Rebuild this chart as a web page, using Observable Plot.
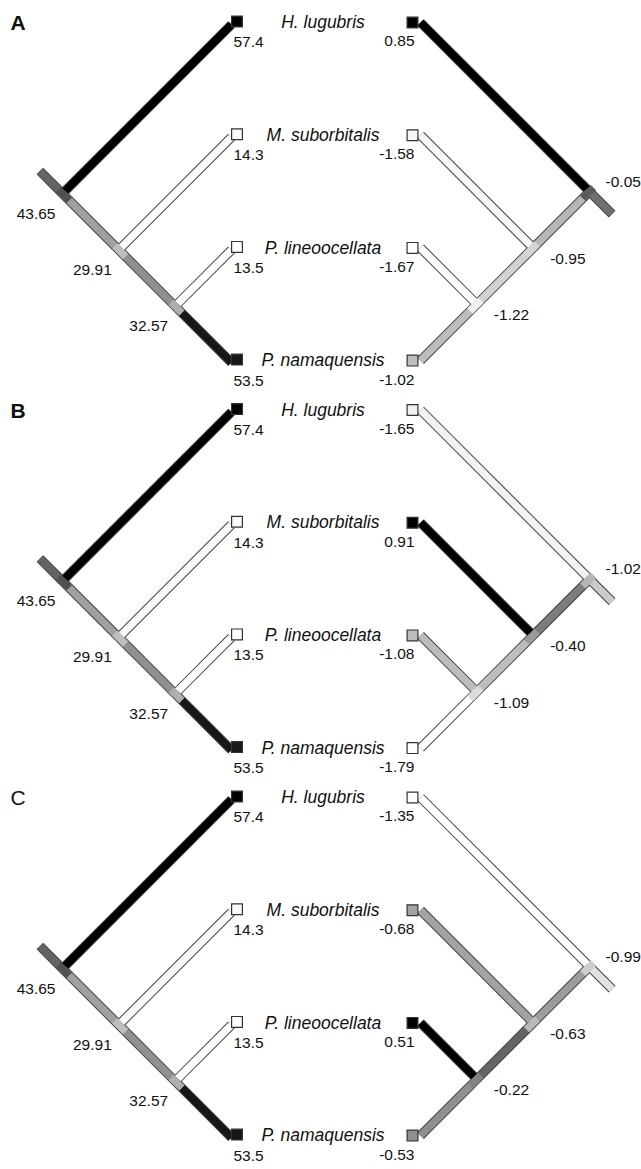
<!DOCTYPE html>
<html><head><meta charset="utf-8">
<script src="https://cdn.jsdelivr.net/npm/d3@7"></script>
<script src="https://cdn.jsdelivr.net/npm/@observablehq/plot@0.6"></script>
<style>html,body{margin:0;padding:0;background:#fff}#chart svg{display:block}</style>
</head><body><div id="chart"></div>
<script>
// ---- data ----
const species = ["H. lugubris", "M. suborbitalis", "P. lineoocellata", "P. namaquensis"];
const panels = ["A", "B", "C"];
// left tree (same in all panels): tips in species order, nodes = [root, (M.sub,(P.lin,P.nam)), (P.lin,P.nam)]
const leftTipValues = [57.4, 14.3, 13.5, 53.5];
const leftNodeValues = [43.65, 29.91, 32.57];
// right trees
const rightTipA = [0.85, -1.58, -1.67, -1.02];
const rightNodeA = [-0.05, -0.95, -1.22];
const rightTipB = [-1.65, 0.91, -1.08, -1.79];
const rightNodeB = [-1.02, -0.40, -1.09];
const rightTipC = [-1.35, -0.68, 0.51, -0.53];
const rightNodeC = [-0.99, -0.63, -0.22];
// topology: tip-index span of each internal node, and edges (parent -> child)
const nodeSpans = [[0, 3], [1, 3], [2, 3]];
const edgeDefs = [["n", 0, "t", 0], ["n", 1, "t", 1], ["n", 2, "t", 2], ["n", 0, "n", 1], ["n", 1, "n", 2], ["n", 2, "t", 3]];

// ---- layout ----
const W = 641, H = 1169, U = 112.7;          // px per tip step
const LEFT_TIP = (231 - 320.5) / U, RIGHT_TIP = (420 - 320.5) / U;
const PANEL_STEP = 387.5 / U, Y_TOP = 22 / U, LEFT_DY = 2 / U;
const STUB = 0.2;
const font = "Liberation Sans, Arial, Helvetica, sans-serif";

const rightTips = [rightTipA, rightTipB, rightTipC];
const rightNodes = [rightNodeA, rightNodeB, rightNodeC];

const tipRows = [], nodeRows = [], edgeRows = [], stubRows = [], patchRows = [], nameRows = [], letterRows = [];
panels.forEach((panel, p) => {
  [{side: -1, tips: leftTipValues, nodes: leftNodeValues, digits: 1},
   {side: 1, tips: rightTips[p], nodes: rightNodes[p], digits: 2}].forEach(tr => {
    const tipX = tr.side < 0 ? LEFT_TIP : RIGHT_TIP;
    const y0 = p * PANEL_STEP + (tr.side < 0 ? LEFT_DY : 0);
    const all = tr.tips.concat(tr.nodes);
    const lo = d3.min(all), hi = d3.max(all);
    const tt = v => (v - lo) / (hi - lo);
    const tips = tr.tips.map((v, i) => ({x: tipX, y: y0 + i, t: tt(v), label: v.toFixed(tr.digits), side: tr.side}));
    const nodes = tr.nodes.map((v, k) => {
      const [a, b] = nodeSpans[k];
      return {x: tipX + tr.side * (b - a) / 2, y: y0 + (a + b) / 2, t: tt(v), label: v.toFixed(2), side: tr.side, root: k === 0};
    });
    tips.forEach(d => tipRows.push(d));
    nodes.forEach(d => nodeRows.push(d));
    edgeDefs.forEach(([pk, pi, ck, ci]) => {
      const a = pk === "n" ? nodes[pi] : tips[pi];
      const c = ck === "n" ? nodes[ci] : tips[ci];
      edgeRows.push({x1: a.x, y1: a.y, x2: c.x, y2: c.y, t: c.t});
    });
    const r = nodes[0];
    stubRows.push({x1: r.x, y1: r.y, x2: r.x + tr.side * STUB, y2: r.y + tr.side * STUB, t: Math.max(0, r.t - 0.08)});
    // small joint patches on the spine
    const dir = tr.side < 0 ? [1, 1] : [-1, 1];
    nodes.forEach((n, k) => {
      const h0 = -0.035, h1 = 0.06;
      patchRows.push({x1: n.x + dir[0] * h0, y1: n.y + dir[1] * h0, x2: n.x + dir[0] * h1, y2: n.y + dir[1] * h1,
        t: k === 0 ? n.t : Math.max(0, n.t - 0.12)});
    });
  });
  species.forEach((s, i) => nameRows.push({x: 0, y: p * PANEL_STEP + i, name: s}));
  letterRows.push({x: -W / 2 / U, y: p * PANEL_STEP, letter: panel, bold: panel !== "C"});
});

const OUT = 9.5, IN = 7.5;
const lnk = {x1: "x1", y1: "y1", x2: "x2", y2: "y2", strokeLinecap: "butt"};
const num = {x: "x", y: "y", text: "label", fontSize: 15.5, fill: "#111"};
const chart = Plot.plot({
  width: W, height: H, margin: 0,
  x: {domain: [-W / 2 / U, W / 2 / U], axis: null},
  y: {domain: [-Y_TOP, H / U - Y_TOP], reverse: true, axis: null},
  color: {type: "linear", domain: [0, 1], range: ["#ffffff", "#000000"], interpolate: d3.interpolateRgb},
  style: {fontFamily: font, background: "#fff"},
  marks: [
    Plot.link(edgeRows, {...lnk, stroke: "#444", strokeWidth: OUT}),
    Plot.link(stubRows, {...lnk, stroke: "#444", strokeWidth: OUT}),
    Plot.link(stubRows, {...lnk, stroke: "t", strokeWidth: IN}),
    Plot.link(edgeRows, {...lnk, stroke: "t", strokeWidth: IN}),
    Plot.link(patchRows, {...lnk, stroke: "t", strokeWidth: IN}),
    Plot.dot(tipRows.filter(d => d.side < 0), {x: "x", y: "y", dx: 5.5, dy: -3, symbol: "square", r: 6.1, fill: "t", stroke: "#333", strokeWidth: 1.2}),
    Plot.dot(tipRows.filter(d => d.side > 0), {x: "x", y: "y", dx: -8, dy: 0, symbol: "square", r: 6.1, fill: "t", stroke: "#333", strokeWidth: 1.2}),
    // tip value labels
    Plot.text(tipRows.filter(d => d.side < 0), {...num, dx: 2, dy: 18, textAnchor: "start"}),
    Plot.text(tipRows.filter(d => d.side > 0), {...num, dx: -6, dy: 19, textAnchor: "end"}),
    // node labels
    Plot.text(nodeRows.filter(d => d.side < 0), {...num, dx: -7, dy: 20, textAnchor: "end"}),
    Plot.text(nodeRows.filter(d => d.side > 0 && !d.root), {...num, dx: 17, dy: 11, textAnchor: "start"}),
    Plot.text(nodeRows.filter(d => d.side > 0 && d.root), {...num, dx: 16, dy: -10, textAnchor: "start"}),
    // species names
    Plot.text(nameRows, {x: "x", y: "y", text: "name", dx: 2, dy: 0, textAnchor: "middle", fontSize: 17.5, fontStyle: "italic", fill: "#111"}),
    // panel letters
    Plot.text(letterRows.filter(d => d.bold), {x: "x", y: "y", text: "letter", dx: 10, dy: 1, textAnchor: "start", fontSize: 21, fontWeight: "bold", fill: "#111"}),
    Plot.text(letterRows.filter(d => !d.bold), {x: "x", y: "y", text: "letter", dx: 10, dy: 1, textAnchor: "start", fontSize: 21, fill: "#111"})
  ]
});
document.getElementById("chart").append(chart);
</script>
</body></html>
